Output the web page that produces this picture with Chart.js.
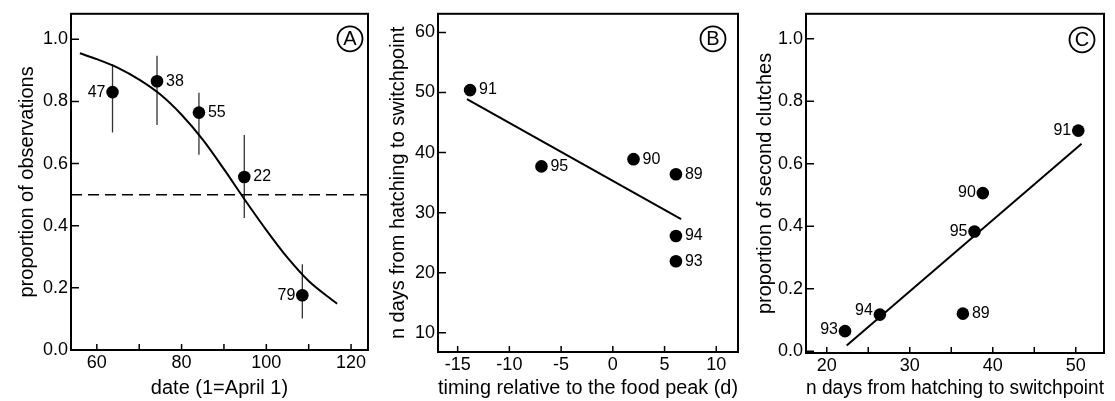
<!DOCTYPE html>
<html>
<head>
<meta charset="utf-8">
<script src="https://cdn.jsdelivr.net/npm/chart.js@4.4.1/dist/chart.umd.min.js"></script>
<style>
  html, body { margin: 0; padding: 0; background: #fff; }
  #wrap { position: relative; width: 1115px; height: 401px; }
  .panel { position: absolute; top: 0; height: 401px; }
</style>
</head>
<body>
<div id="wrap">
  <div class="panel" style="left:0;width:375px"><canvas id="chartA"></canvas></div>
  <div class="panel" style="left:375px;width:370px"><canvas id="chartB"></canvas></div>
  <div class="panel" style="left:745px;width:370px"><canvas id="chartC"></canvas></div>
</div>
<script>
// panel A - proportion of observations by date
const dateA = [63.7, 74.2, 84.1, 94.8, 108.5];
const propA = [0.83, 0.865, 0.764, 0.557, 0.176];
const errLowA = [0.70, 0.724, 0.628, 0.425, 0.101];
const errHighA = [0.92, 0.947, 0.828, 0.692, 0.276];
const nA = ['47', '38', '55', '22', '79'];
const curveXA = [56, 60, 65, 70, 75, 80, 85, 90, 95, 100, 105, 110, 116.7];
const curveYA = [0.955, 0.936, 0.908, 0.870, 0.822, 0.757, 0.677, 0.582, 0.482, 0.386, 0.297, 0.222, 0.149];
const xTicksA = [60, 70, 80, 90, 100, 110, 120];
const yTicksA = [0, 0.2, 0.4, 0.6, 0.8, 1.0];
const xRangeA = [53.9, 124];
const yRangeA = [0, 1.082];

// panel B - days from hatching to switchpoint vs timing
const timingB = [-13.8, -6.9, 2.0, 6.1, 6.1, 6.1];
const daysB = [50.4, 37.7, 38.9, 36.4, 26.1, 21.9];
const yearsB = ['91', '95', '90', '89', '94', '93'];
const fitXB = [-14.1, 6.6];
const fitYB = [48.9, 28.9];
const xTicksB = [-15, -10, -5, 0, 5, 10];
const yTicksB = [10, 20, 30, 40, 50, 60];
const xRangeB = [-16.9, 12.1];
const yRangeB = [6.8, 63.1];

// panel C - proportion of second clutches vs days
const daysC = [50.3, 38.8, 37.8, 36.4, 26.4, 22.2];
const propC = [0.706, 0.506, 0.383, 0.12, 0.117, 0.064];
const yearsC = ['91', '90', '95', '89', '94', '93'];
const fitXC = [22.4, 50.7];
const fitYC = [0.018, 0.664];
const xTicksC = [20, 25, 30, 35, 40, 45, 50];
const yTicksC = [0, 0.2, 0.4, 0.6, 0.8, 1.0];
const xRangeC = [17.5, 53.4];
const yRangeC = [-0.006, 1.08];

const FONT = '"Liberation Sans", Arial, Helvetica, sans-serif';
Chart.defaults.font.family = FONT;
Chart.defaults.color = '#000';

function toXY(xs, ys) {
  return xs.map((x, i) => ({ x: x, y: ys[i] }));
}

// box round the plot area plus ticks pointing inwards
const frameTicks = {
  id: 'frameTicks',
  afterDatasetsDraw(chart) {
    const { ctx, chartArea: a, scales } = chart;
    ctx.save();
    ctx.strokeStyle = '#000';
    ctx.lineWidth = 1.5;
    ctx.beginPath();
    scales.x.ticks.forEach(t => {
      const p = scales.x.getPixelForValue(t.value);
      ctx.moveTo(p, a.bottom);
      ctx.lineTo(p, a.bottom - 6);
    });
    scales.y.ticks.forEach(t => {
      const p = scales.y.getPixelForValue(t.value);
      ctx.moveTo(a.left, p);
      ctx.lineTo(a.left + 8, p);
    });
    ctx.stroke();
    ctx.lineWidth = 2;
    ctx.strokeRect(a.left, a.top, a.right - a.left, a.bottom - a.top);
    ctx.restore();
  }
};

function panelLetter(letter, dx, dy) {
  return {
    id: 'panelLetter',
    afterDraw(chart) {
      const { ctx, chartArea: a } = chart;
      const cx = a.right - dx, cy = a.top + dy;
      ctx.save();
      ctx.lineWidth = 1.8;
      ctx.strokeStyle = '#000';
      ctx.beginPath();
      ctx.arc(cx, cy, 12.5, 0, Math.PI * 2);
      ctx.stroke();
      ctx.fillStyle = '#000';
      ctx.font = '20px ' + FONT;
      ctx.textAlign = 'center';
      ctx.textBaseline = 'middle';
      ctx.fillText(letter, cx, cy + 1);
      ctx.restore();
    }
  };
}

function pointLabels(dsIndex, texts, sides, dys) {
  return {
    id: 'pointLabels',
    afterDatasetsDraw(chart) {
      const ctx = chart.ctx;
      const meta = chart.getDatasetMeta(dsIndex);
      ctx.save();
      ctx.font = '16px ' + FONT;
      ctx.fillStyle = '#000';
      ctx.textBaseline = 'middle';
      meta.data.forEach((pt, i) => {
        const left = sides[i] === 'l';
        ctx.textAlign = left ? 'right' : 'left';
        ctx.fillText(texts[i], pt.x + (left ? -7 : 9), pt.y + (dys ? dys[i] : 0));
      });
      ctx.restore();
    }
  };
}

const errorBarsA = {
  id: 'errorBarsA',
  beforeDatasetsDraw(chart) {
    const { ctx, scales: { x, y } } = chart;
    ctx.save();
    ctx.strokeStyle = '#333';
    ctx.lineWidth = 1.3;
    ctx.beginPath();
    dateA.forEach((d, i) => {
      const px = x.getPixelForValue(d);
      ctx.moveTo(px, y.getPixelForValue(errLowA[i]));
      ctx.lineTo(px, y.getPixelForValue(errHighA[i]));
    });
    ctx.stroke();
    ctx.restore();
  }
};

function makeScales(p) {
  return {
    x: {
      type: 'linear',
      min: p.xRange[0],
      max: p.xRange[1],
      afterBuildTicks: s => { s.ticks = p.xTicks.map(v => ({ value: v })); },
      afterFit: s => { s.height = p.xAxisH; },
      ticks: {
        font: { size: 18 },
        color: '#000',
        padding: 2,
        maxRotation: 0,
        autoSkip: false,
        callback: p.xLabel
      },
      grid: { display: false, drawTicks: false },
      border: { display: false },
      title: { display: true, text: p.xTitle, font: { size: 20 }, color: '#000', padding: { top: 0, bottom: 1 } }
    },
    y: {
      type: 'linear',
      min: p.yRange[0],
      max: p.yRange[1],
      afterBuildTicks: s => { s.ticks = p.yTicks.map(v => ({ value: v })); },
      afterFit: s => { s.width = p.yAxisW; },
      ticks: {
        font: { size: 18 },
        color: '#000',
        padding: 3,
        autoSkip: false,
        callback: p.yLabel
      },
      grid: { display: false, drawTicks: false },
      border: { display: false },
      title: { display: true, text: p.yTitle, font: { size: 20 }, color: '#000', padding: { top: p.yTitlePad, bottom: 0 } }
    }
  };
}

const dotStyle = {
  type: 'scatter',
  pointRadius: 6.3,
  pointHoverRadius: 6.3,
  pointBackgroundColor: '#000',
  pointBorderColor: '#000',
  pointBorderWidth: 0,
  showLine: false
};

const lineStyle = {
  type: 'line',
  borderColor: '#000',
  borderWidth: 2,
  pointRadius: 0,
  fill: false
};

// panel A
new Chart(document.getElementById('chartA'), {
  type: 'scatter',
  data: {
    datasets: [
      Object.assign({}, dotStyle, { data: toXY(dateA, propA) }),
      Object.assign({}, lineStyle, { data: toXY(curveXA, curveYA), cubicInterpolationMode: 'monotone' }),
      Object.assign({}, lineStyle, { data: toXY(xRangeA, [0.5, 0.5]), borderWidth: 1.5, borderDash: [11, 6] })
    ]
  },
  options: {
    responsive: true,
    maintainAspectRatio: false,
    animation: false,
    layout: { padding: { top: 10, right: 7, left: 0, bottom: 0 } },
    plugins: { legend: { display: false }, tooltip: { enabled: false } },
    scales: makeScales({
      xRange: xRangeA, yRange: yRangeA, xTicks: xTicksA, yTicks: yTicksA,
      xAxisH: 51, yAxisW: 71, yTitlePad: 15,
      xLabel: v => (v % 20 === 0 ? String(v) : ''),
      yLabel: v => v.toFixed(1),
      xTitle: 'date (1=April 1)',
      yTitle: 'proportion of observations'
    })
  },
  plugins: [errorBarsA, frameTicks, pointLabels(0, nA, ['l', 'r', 'r', 'r', 'l']), panelLetter('A', 18, 25)]
});

// panel B
new Chart(document.getElementById('chartB'), {
  type: 'scatter',
  data: {
    datasets: [
      Object.assign({}, dotStyle, { data: toXY(timingB, daysB) }),
      Object.assign({}, lineStyle, { data: toXY(fitXB, fitYB) })
    ]
  },
  options: {
    responsive: true,
    maintainAspectRatio: false,
    animation: false,
    layout: { padding: { top: 13, right: 7, left: 0, bottom: 0 } },
    plugins: { legend: { display: false }, tooltip: { enabled: false } },
    scales: makeScales({
      xRange: xRangeB, yRange: yRangeB, xTicks: xTicksB, yTicks: yTicksB,
      xAxisH: 49, yAxisW: 63, yTitlePad: 11,
      xLabel: v => String(v),
      yLabel: v => String(v),
      xTitle: 'timing relative to the food peak (d)',
      yTitle: 'n days from hatching to switchpoint'
    })
  },
  plugins: [frameTicks, pointLabels(0, yearsB, ['r', 'r', 'r', 'r', 'r', 'r']), panelLetter('B', 25, 25)]
});

// panel C
new Chart(document.getElementById('chartC'), {
  type: 'scatter',
  data: {
    datasets: [
      Object.assign({}, dotStyle, { data: toXY(daysC, propC) }),
      Object.assign({}, lineStyle, { data: toXY(fitXC, fitYC) })
    ]
  },
  options: {
    responsive: true,
    maintainAspectRatio: false,
    animation: false,
    layout: { padding: { top: 13, right: 11, left: 0, bottom: 0 } },
    plugins: { legend: { display: false }, tooltip: { enabled: false } },
    scales: makeScales({
      xRange: xRangeC, yRange: yRangeC, xTicks: xTicksC, yTicks: yTicksC,
      xAxisH: 48, yAxisW: 61, yTitlePad: 8,
      xLabel: v => (v % 10 === 0 ? String(v) : ''),
      yLabel: v => v.toFixed(1),
      xTitle: 'n days from hatching to switchpoint',
      yTitle: 'proportion of second clutches'
    })
  },
  plugins: [frameTicks, pointLabels(0, yearsC, ['l', 'l', 'l', 'r', 'l', 'l'], [0, 0, 0, 0, -4, -2]), panelLetter('C', 22, 26)]
});
</script>
</body>
</html>
